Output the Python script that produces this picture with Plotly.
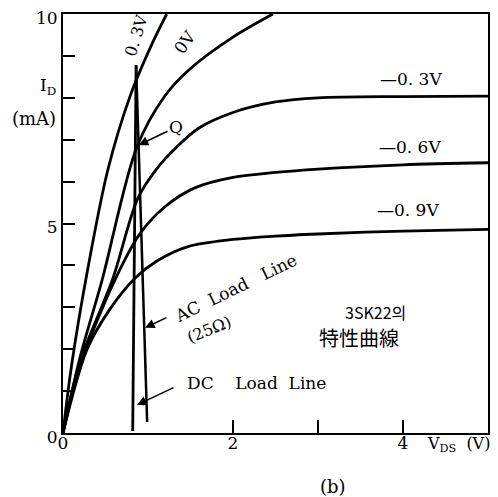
import plotly.graph_objects as go

# ---- data ----
gate_labels = ["0. 3V", "0V", "—0. 3V", "—0. 6V", "—0. 9V"]

vds_p03 = [0, 0.1, 0.29, 0.53, 0.8, 1.05, 1.22]
id_p03 = [0, 1.6, 3.9, 6.3, 8.1, 9.3, 10.0]

vds_0 = [0, 0.2, 0.46, 0.87, 1.2, 1.5, 2.0, 2.47]
id_0 = [0, 1.8, 3.65, 6.83, 8.05, 8.7, 9.45, 10.0]

vds_m03 = [0, 0.2, 0.58, 0.88, 1.1, 1.35, 1.6, 2.0, 2.5, 3.0, 4.0, 5.0]
id_m03 = [0, 1.7, 3.65, 5.6, 6.3, 6.85, 7.28, 7.65, 7.9, 8.0, 8.03, 8.04]

vds_m06 = [0, 0.2, 0.61, 0.91, 1.2, 1.55, 2.0, 2.5, 3.0, 4.0, 5.0]
id_m06 = [0, 1.6, 3.65, 4.77, 5.4, 5.85, 6.1, 6.22, 6.3, 6.4, 6.45]

vds_m09 = [0, 0.28, 0.55, 0.85, 1.1, 1.47, 2.0, 2.5, 3.0, 4.0, 5.0]
id_m09 = [0, 1.98, 2.95, 3.7, 4.1, 4.45, 4.62, 4.7, 4.75, 4.82, 4.86]

dc_vds = [0.82, 0.86]
dc_id = [0.05, 8.78]
ac_vds = [0.99, 0.86]
ac_id = [0.26, 8.78]

q_point = (0.89, 6.87)

x_tickvals = [0, 2, 4]
x_ticktext = ["0", "2", "4"]
x_minor_ticks = [3]
y_tickvals = [0, 5, 10]
y_ticktext = ["0", "5", "10"]

SERIF = "DejaVu Serif"
CJK = "Noto Sans CJK KR"
NB = "\u00a0"

fig = go.Figure()
for vx, iy in [(vds_p03, id_p03), (vds_0, id_0), (vds_m03, id_m03),
               (vds_m06, id_m06), (vds_m09, id_m09)]:
    fig.add_trace(go.Scatter(x=vx, y=iy, mode="lines",
                             line=dict(color="black", width=2.8, shape="spline", smoothing=0.9),
                             showlegend=False, hoverinfo="skip"))
fig.add_trace(go.Scatter(x=dc_vds, y=dc_id, mode="lines",
                         line=dict(color="black", width=2.8), showlegend=False))
fig.add_trace(go.Scatter(x=ac_vds, y=ac_id, mode="lines",
                         line=dict(color="black", width=2.5), showlegend=False))


def txt(x, y, s, size=17, angle=0, font=SERIF):
    fig.add_annotation(x=x, y=y, xref="x", yref="y", text=s, showarrow=False,
                       textangle=angle, xanchor="center", yanchor="middle",
                       font=dict(family=font, size=size, color="black"))


def ptxt(px, py, s, size=17, font=SERIF):
    # text outside the plotting area, placed in paper units
    fig.add_annotation(x=(px - 63) / 425, y=(433 - py) / 419, xref="paper", yref="paper",
                       text=s, showarrow=False, xanchor="center", yanchor="middle",
                       font=dict(family=font, size=size, color="black"))


def arrow(x, y, ax, ay, s="", size=17):
    fig.add_annotation(x=x, y=y, ax=ax, ay=ay, xref="x", yref="y", axref="x", ayref="y",
                       text=s, showarrow=True, arrowhead=2, arrowsize=1.2, arrowwidth=1.6,
                       arrowcolor="black", font=dict(family=SERIF, size=size, color="black"))


# curve labels
txt(0.87, 9.5, gate_labels[0], size=16, angle=-73)
txt(1.435, 9.33, gate_labels[1], size=17, angle=-55)
txt(4.09, 8.45, gate_labels[2], size=17)
txt(4.08, 6.83, gate_labels[3], size=17)
txt(4.06, 5.32, gate_labels[4], size=17)

# Q point
arrow(q_point[0], q_point[1], 1.33, 7.30, "Q", size=17)

# load line labels
txt(2.03, 3.46, "AC" + NB * 2 + "Load" + NB * 3 + "Line", size=17, angle=-26)
txt(1.72, 2.48, "(25Ω)", size=16, angle=-22)
arrow(0.965, 2.51, 1.235, 2.77)
txt(2.28, 1.19, "DC" + NB * 4 + "Load" + NB * 2 + "Line", size=17)
arrow(0.87, 0.67, 1.318, 1.10)

# device caption
txt(3.68, 2.89, "3SK22의", size=16, font=CJK)
txt(3.48, 2.28, "特性曲線", size=20, font=CJK)

# axis titles and caption (outside the plot area)
ptxt(48, 87, "I<sub>D</sub>", size=17)
ptxt(34, 118, "(mA)", size=18)
ptxt(458, 444, "V<sub>DS</sub>" + NB * 2 + "(V)", size=16)
ptxt(333, 486, "(b)", size=18)

fig.update_xaxes(range=[0, 5], tickvals=x_tickvals, ticktext=x_ticktext,
                 ticks="inside", ticklen=13, tickwidth=1.5, tickcolor="black",
                 minor=dict(tickvals=x_minor_ticks, ticks="inside", ticklen=13,
                            tickwidth=1.5, tickcolor="black", showgrid=False),
                 showline=True, linecolor="black", linewidth=2, mirror=True,
                 showgrid=False, zeroline=False, ticklabelstandoff=-6,
                 automargin=False,
                 tickfont=dict(family=SERIF, size=17, color="black"))
fig.update_yaxes(range=[0, 10], tickvals=y_tickvals, ticktext=y_ticktext,
                 ticks="inside", ticklen=12, tickwidth=1.5, tickcolor="black",
                 minor=dict(dtick=1, tick0=0, ticks="inside", ticklen=12,
                            tickwidth=1.5, tickcolor="black", showgrid=False),
                 showline=True, linecolor="black", linewidth=2, mirror=True,
                 showgrid=False, zeroline=False,
                 ticklabelshift=4, ticklabeloverflow="allow", automargin=False,
                 tickfont=dict(family=SERIF, size=17, color="black"))

# the page body adds an 8px margin, so the figure is sized/offset to compensate
fig.update_layout(width=490, height=489,
                  margin=dict(l=55, r=10, t=6, b=64, autoexpand=False),
                  plot_bgcolor="white", paper_bgcolor="white",
                  showlegend=False)

fig.write_html("out.html")
